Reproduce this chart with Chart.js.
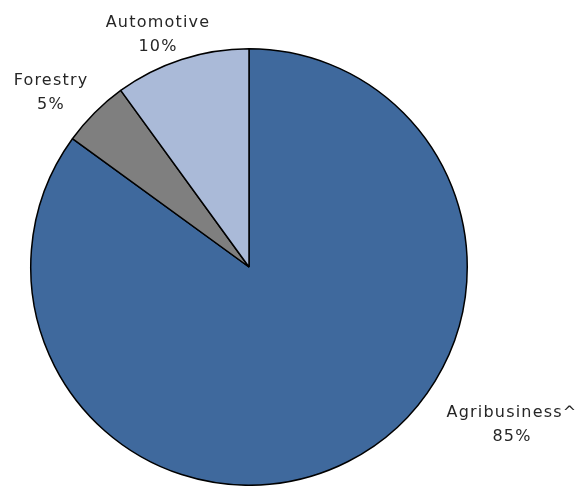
<!DOCTYPE html>
<html>
<head>
<meta charset="utf-8">
<script src="https://cdn.jsdelivr.net/npm/chart.js@4/dist/chart.umd.min.js"></script>
<style>
  html, body { margin:0; padding:0; background:#fff; }
  #wrap { width:581px; height:486px; position:relative; }
</style>
</head>
<body>
<div id="wrap"><canvas id="pie"></canvas></div>
<script>
// segments, clockwise from 12 o'clock
const sectors = ['Agribusiness^', 'Forestry', 'Automotive'];
const shares = [85, 5, 10];
const fills = ['#3F699D', '#7F7F7F', '#AABAD8'];

// where each two-line label sits (centre x, first baseline y)
const labelSpots = [[512, 417], [51, 85], [158, 27]];

const outsideLabels = {
  id: 'outsideLabels',
  afterDraw(chart){
    const ctx = chart.ctx;
    ctx.save();
    ctx.font = '16px "DejaVu Sans", Verdana, sans-serif';
    ctx.letterSpacing = '1.2px';
    ctx.fillStyle = '#262626';
    ctx.textAlign = 'center';
    ctx.textBaseline = 'alphabetic';
    chart.data.labels.forEach((name, i)=>{
      const [x, y] = labelSpots[i];
      ctx.fillText(name, x, y);
      ctx.fillText(chart.data.datasets[0].data[i] + '%', x, y + 24);
    });
    ctx.restore();
  }
};

new Chart(document.getElementById('pie'), {
  type: 'pie',
  data: {
    labels: sectors,
    datasets: [{
      data: shares,
      backgroundColor: fills,
      borderColor: '#000',
      borderWidth: 1.5,
      borderAlign: 'center'
    }]
  },
  options: {
    responsive: true,
    maintainAspectRatio: false,
    animation: false,
    layout: { padding: { top: 48, bottom: 0, left: 0, right: 83 } },
    plugins: {
      legend: { display: false },
      tooltip: { enabled: false }
    }
  },
  plugins: [outsideLabels]
});
</script>
</body>
</html>
